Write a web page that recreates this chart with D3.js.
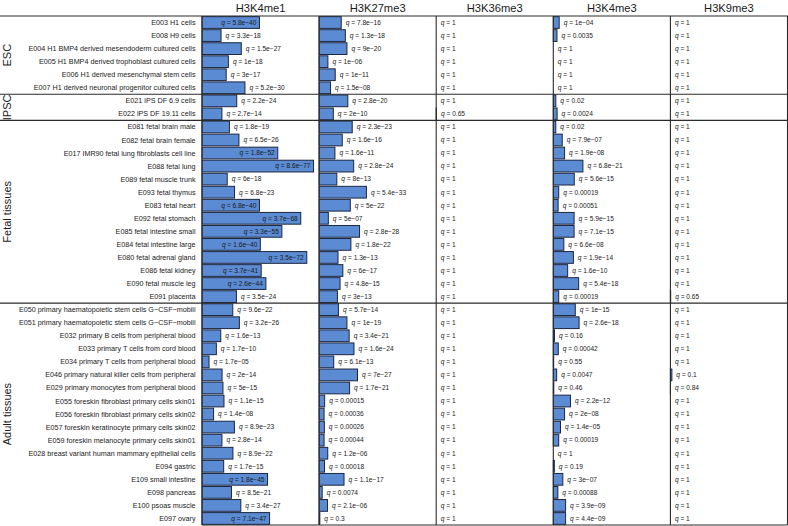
<!DOCTYPE html>
<html><head><meta charset="utf-8">
<script src="https://cdn.jsdelivr.net/npm/d3@7"></script>
<style>
html,body{margin:0;padding:0;background:#fff;}
svg{display:block;font-family:"Liberation Sans",Arial,Helvetica,sans-serif;}
</style></head>
<body>
<svg id="chart" width="788" height="526"></svg>
<script>
const groupNames = ["ESC", "IPSC", "Fetal tissues", "Adult tissues"];
const groupSizes = [6, 2, 14, 17];
const samples = [
  "E003 H1 cells","E008 H9 cells","E004 H1 BMP4 derived mesendoderm cultured cells",
  "E005 H1 BMP4 derived trophoblast cultured cells","E006 H1 derived mesenchymal stem cells",
  "E007 H1 derived neuronal progenitor cultured cells",
  "E021 iPS DF 6.9 cells","E022 iPS DF 19.11 cells",
  "E081 fetal brain male","E082 fetal brain female","E017 IMR90 fetal lung fibroblasts cell line",
  "E088 fetal lung","E089 fetal muscle trunk","E093 fetal thymus","E083 fetal heart",
  "E092 fetal stomach","E085 fetal intestine small","E084 fetal intestine large",
  "E080 fetal adrenal gland","E086 fetal kidney","E090 fetal muscle leg","E091 placenta",
  "E050 primary haematopoietic stem cells G\u2212CSF\u2212mobili",
  "E051 primary haematopoietic stem cells G\u2212CSF\u2212mobili",
  "E032 primary B cells from peripheral blood","E033 primary T cells from cord blood",
  "E034 primary T cells from peripheral blood","E046 primary natural killer cells from peripheral",
  "E029 primary monocytes from peripheral blood","E055 foreskin fibroblast primary cells skin01",
  "E056 foreskin fibroblast primary cells skin02","E057 foreskin keratinocyte primary cells skin02",
  "E059 foreskin melanocyte primary cells skin01","E028 breast variant human mammary epithelial cells",
  "E094 gastric","E109 small intestine","E098 pancreas","E100 psoas muscle","E097 ovary"
];
const marks = ["H3K4me1", "H3K27me3", "H3K36me3", "H3K4me3", "H3K9me3"];

// q-value labels per mark
const qK4me1 = ["5.8e-40","3.3e-18","1.5e-27","1e-18","3e-17","5.2e-30","2.2e-24","2.7e-14",
  "1.8e-19","6.5e-26","1.8e-52","8.6e-77","6e-18","6.8e-23","6.8e-40","3.7e-68","3.3e-55","1.6e-40",
  "3.5e-72","3.7e-41","2.6e-44","3.5e-24","9.6e-22","3.2e-26","1.6e-13","1.7e-10","1.7e-05","2e-14",
  "5e-15","1.1e-15","1.4e-08","8.9e-23","2.8e-14","8.9e-22","1.7e-15","1.8e-45","8.5e-21","3.4e-27","7.1e-47"];
const qK27me3 = ["7.8e-16","1.3e-18","9e-20","1e-06","1e-11","1.5e-08","2.8e-20","2e-10",
  "2.3e-23","1.6e-16","1.6e-11","2.8e-24","8e-13","5.4e-33","5e-22","5e-07","2.8e-28","1.8e-22",
  "1.3e-13","6e-17","4.8e-15","3e-13","5.7e-14","1e-19","3.4e-21","1.6e-24","6.1e-13","7e-27",
  "1.7e-21","0.00015","0.00036","0.00026","0.00044","1.2e-06","0.00018","1.1e-17","0.0074","2.1e-06","0.3"];
const qK36me3 = ["1","1","1","1","1","1","1","0.65","1","1","1","1","1","1","1","1","1","1","1","1",
  "1","1","1","1","1","1","1","1","1","1","1","1","1","1","1","1","1","1","1"];
const qK4me3 = ["1e-04","0.0035","1","1","1","1","0.02","0.0024","0.02","7.9e-07","1.9e-08","6.8e-21",
  "5.6e-15","0.00019","0.00051","5.9e-15","7.1e-15","6.6e-08","1.9e-14","1.6e-10","5.4e-18","0.00019",
  "1e-15","2.6e-18","0.16","0.00042","0.55","0.0047","0.46","2.2e-12","2e-08","1.4e-05","0.00019","1",
  "0.19","3e-07","0.00088","3.9e-09","4.4e-09"];
const qK9me3 = ["1","1","1","1","1","1","1","1","1","1","1","1","1","1","1","1","1","1","1","1",
  "1","0.65","1","1","1","1","1","0.1","0.84","1","1","1","1","1","1","1","1","1","1"];

// bar lengths (-log10 q)
const vK4me1 = [39.2,13.0,26.8,18.0,16.5,29.3,23.7,13.6,18.7,25.2,51.7,76.1,17.2,22.2,39.2,67.4,54.5,39.8,
  71.5,40.4,43.6,23.5,21.0,25.5,12.8,9.8,4.8,13.7,14.3,15.0,7.9,22.1,13.6,21.1,14.8,44.7,20.1,26.5,46.1];
const vK27me3 = [15.1,17.9,19.0,6.0,11.0,7.8,19.6,9.7,22.6,15.8,10.8,23.6,12.1,32.3,21.3,6.3,27.6,21.7,
  12.9,16.2,14.3,12.5,13.2,19.0,20.5,23.8,10.0,26.2,20.8,3.8,3.4,3.6,3.4,5.9,3.7,17.0,2.1,5.7,0.5];
const vK36me3 = [0,0,0,0,0,0,0,0.19,0,0,0,0,0,0,0,0,0,0,0,0,0,0,0,0,0,0,0,0,0,0,0,0,0,0,0,0,0,0,0];
const vK4me3 = [4.0,2.5,0,0,0,0,1.7,2.6,1.7,6.1,7.7,20.2,14.3,3.7,3.3,14.2,14.2,7.2,13.7,9.8,17.3,3.7,
  15.0,17.6,0.8,3.4,0.26,2.3,0.34,11.7,7.7,4.9,3.7,0,0.72,6.5,3.1,8.4,8.4];
const vK9me3 = [0,0,0,0,0,0,0,0,0,0,0,0,0,0,0,0,0,0,0,0,0,0.19,0,0,0,0,0,1.0,0.08,0,0,0,0,0,0,0,0,0,0];

const qLabels = [qK4me1, qK27me3, qK36me3, qK4me3, qK9me3];
const barVals = [vK4me1, vK27me3, vK36me3, vK4me3, vK9me3];

const svg = d3.select("#chart");
const W = 788, H = 526;
const plotTop = 16, plotBottom = 525;
const panelLeft = 202, panelRight = 787.5;
const panelW = (panelRight - panelLeft) / marks.length;

const y = d3.scaleBand().domain(d3.range(samples.length))
  .range([plotTop, plotBottom]).paddingInner(0.1).paddingOuter(0.05);
const step = y.step();
const maxV = d3.max(barVals.flat());
const x = d3.scaleLinear().domain([0, maxV * 1.05]).range([0, panelW]);

const fill = "#5b8bd2", strokeC = "#1c2640", lineC = "#2b2b2b";

// panel headers
svg.append("g").selectAll("text").data(marks).join("text")
  .attr("x", (d, i) => panelLeft + panelW * (i + 0.5))
  .attr("y", 12)
  .attr("text-anchor", "middle")
  .attr("font-size", 11.2)
  .attr("fill", "#1a1a1a")
  .text(d => d);

// row labels
svg.append("g").selectAll("text").data(samples).join("text")
  .attr("x", 195.5)
  .attr("y", (d, i) => y(i) + y.bandwidth() / 2)
  .attr("dy", "0.35em")
  .attr("text-anchor", "end")
  .attr("font-size", 7.2)
  .attr("fill", "#1a1a1a")
  .text(d => d);

// group labels & separators
const cum = [0];
groupSizes.forEach(s => cum.push(cum[cum.length - 1] + s));
const bound = k => plotTop + cum[k] * step;
svg.append("g").selectAll("text").data(groupNames).join("text")
  .attr("transform", (d, i) => `translate(10.5,${(bound(i) + bound(i + 1)) / 2}) rotate(-90)`)
  .attr("text-anchor", "middle")
  .attr("font-size", 11)
  .attr("fill", "#1a1a1a")
  .text(d => d);

// panels
marks.forEach((m, pi) => {
  const g = svg.append("g").attr("transform", `translate(${panelLeft + pi * panelW},0)`);
  const data = samples.map((s, i) => ({ i, v: barVals[pi][i], q: qLabels[pi][i] }));
  g.selectAll("rect").data(data.filter(d => d.v > 0)).join("rect")
    .attr("x", 0)
    .attr("y", d => y(d.i))
    .attr("width", d => x(d.v))
    .attr("height", y.bandwidth())
    .attr("fill", fill)
    .attr("stroke", strokeC)
    .attr("stroke-width", 1);
  const t = g.selectAll("text").data(data).join("text")
    .attr("y", d => y(d.i) + y.bandwidth() / 2)
    .attr("dy", "0.35em")
    .attr("font-size", 6.6)
    .attr("fill", "#1a1a1a")
    .attr("x", d => d.v > 35 ? x(d.v) - 3 : x(d.v) + 4.5)
    .attr("text-anchor", d => d.v > 35 ? "end" : "start");
  t.append("tspan").attr("font-style", "italic").text("q");
  t.append("tspan").text(d => " = " + d.q.replace(/-/g, "\u2212"));
});

// frame lines
const lines = svg.append("g").attr("stroke", lineC).attr("stroke-width", 1.1);
[0, 1, 2, 3].forEach(k => {
  lines.append("line").attr("x1", 0).attr("x2", W).attr("y1", bound(k)).attr("y2", bound(k));
});
lines.append("line").attr("x1", panelLeft).attr("x2", panelRight)
  .attr("y1", plotBottom).attr("y2", plotBottom);
d3.range(marks.length + 1).forEach(k => {
  const xx = panelLeft + k * panelW;
  lines.append("line").attr("x1", xx).attr("x2", xx).attr("y1", plotTop).attr("y2", plotBottom);
});
</script>
</body></html>
